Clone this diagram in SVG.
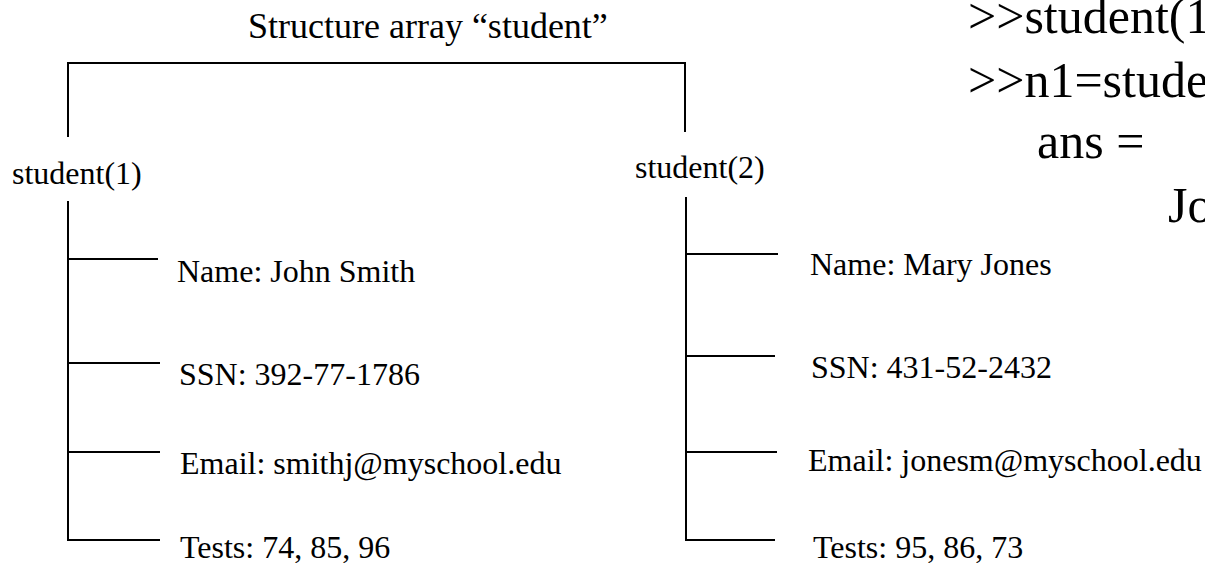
<svg xmlns="http://www.w3.org/2000/svg" width="1205" height="563" viewBox="0 0 1205 563">
<style>
text{font-family:"Liberation Serif","Times New Roman",serif;fill:#000}
.t{font-size:36px}
.f{font-size:32px}
.c{font-size:50px}
.ln{fill:none;stroke:#000;stroke-width:2}
</style>
<rect width="1205" height="563" fill="#fff"/>
<g id="title"><text x="248" y="38" class="t">Structure array “student”</text></g>
<g id="connectors">
<path class="ln" d="M68,137 V63 H685 V132"/>
<path class="ln" d="M68,201 V540 H160 M68,259 H158 M68,363 H160 M68,452 H160"/>
<path class="ln" d="M686,197 V540 H775 M686,254 H778 M686,356 H775 M686,452 H777"/>
</g>
<g id="student1">
<text x="12" y="184" class="f">student(1)</text>
<text x="177" y="282" class="f">Name: John Smith</text>
<text x="179" y="385" class="f">SSN: 392-77-1786</text>
<text x="180" y="474" class="f">Email: smithj@myschool.edu</text>
<text x="180" y="558" class="f">Tests: 74, 85, 96</text>
</g>
<g id="student2">
<text x="635" y="178" class="f">student(2)</text>
<text x="810" y="275" class="f">Name: Mary Jones</text>
<text x="811" y="378" class="f">SSN: 431-52-2432</text>
<text x="808" y="471" class="f">Email: jonesm@myschool.edu</text>
<text x="813" y="558" class="f">Tests: 95, 86, 73</text>
</g>
<g id="command">
<text x="968" y="33" class="c">&gt;&gt;student(1</text>
<text x="968" y="97" class="c">&gt;&gt;n1=stude</text>
<text x="1037" y="158" class="c">ans =</text>
<text x="1168" y="222" class="c">Jo</text>
</g>
</svg>
